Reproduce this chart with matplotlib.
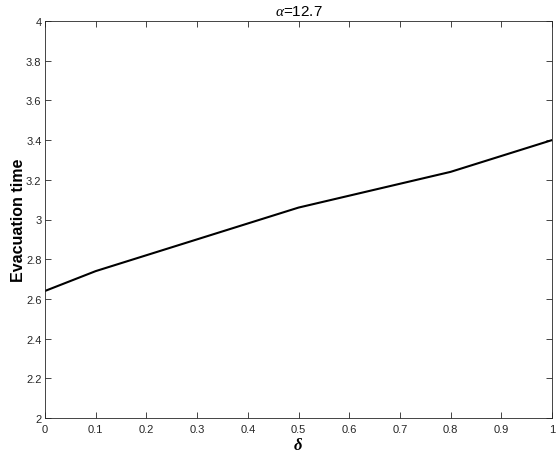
import numpy as np
import matplotlib
matplotlib.use("Agg")
from matplotlib import pyplot as plt

# values
delta_vals = [0.0, 0.1, 0.5, 0.8, 1.0]
evac_time = [2.64, 2.74, 3.06, 3.24, 3.40]
x_ticks = np.round(np.arange(0, 1.01, 0.1), 1)
y_ticks = np.round(np.arange(2, 4.01, 0.2), 1)
x_tick_labels = ["0", "0.1", "0.2", "0.3", "0.4", "0.5", "0.6", "0.7", "0.8", "0.9", "1"]
y_tick_labels = ["2", "2.2", "2.4", "2.6", "2.8", "3", "3.2", "3.4", "3.6", "3.8", "4"]

plt.rcParams['font.family'] = ['Liberation Sans', 'DejaVu Sans']
plt.rcParams['mathtext.fontset'] = 'custom'
plt.rcParams['mathtext.it'] = 'Liberation Serif:italic'
plt.rcParams['mathtext.bfit'] = 'Liberation Serif:bold:italic'

axis_col = '#262626'

fig = plt.figure(figsize=(5.57, 4.60), dpi=100)
ax = fig.add_axes([45/557, 41/460, 507/557, 397/460])

ax.plot(delta_vals, evac_time, color='black', lw=1.5)

ax.set_xlim(0, 1)
ax.set_ylim(2, 4)
ax.set_xticks(x_ticks)
ax.set_xticklabels(x_tick_labels)
ax.set_yticks(y_ticks)
ax.set_yticklabels(y_tick_labels)

ax.tick_params(direction='in', top=True, right=True, length=4, width=0.6,
               colors=axis_col, labelsize=8, pad=4)
ax.tick_params(axis='y', pad=2.5)
for sp in ax.spines.values():
    sp.set_color(axis_col)
    sp.set_linewidth(0.6)

ax.set_title(r'$\alpha$=12.7', fontsize=11, color='black', pad=4)
ax.set_xlabel(r'$\mathbfit{\delta}$', fontsize=12, labelpad=2)
ax.set_ylabel('Evacuation time', fontsize=11.5, fontweight='bold', labelpad=0)

fig.savefig('out.png', dpi=100)
